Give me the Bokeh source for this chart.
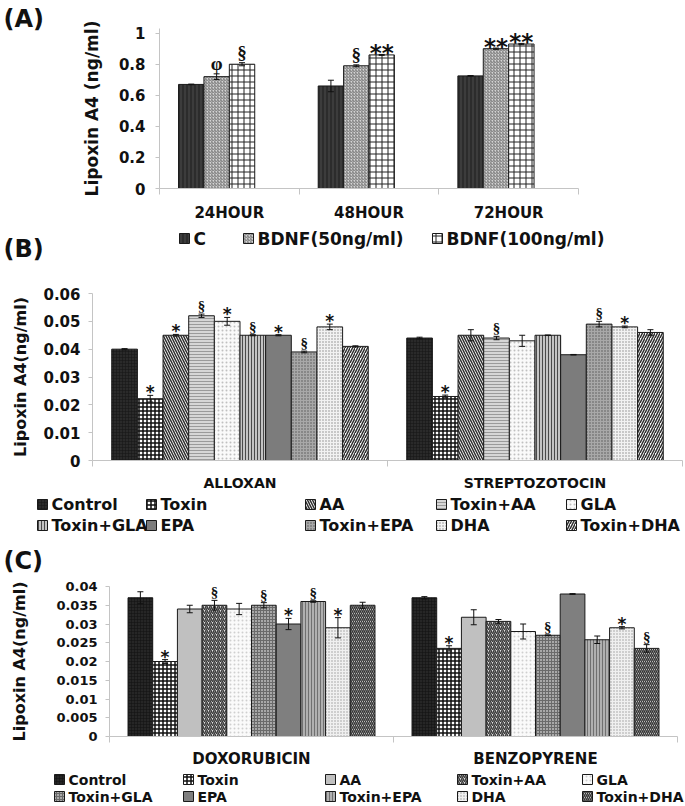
from bokeh.plotting import figure
from bokeh.models import (ColumnDataSource, Range1d, FixedTicker, LinearAxis,
                          Whisker, TeeHead, LabelSet, NumeralTickFormatter)
from bokeh.layouts import column, row
from bokeh.embed import file_html
from bokeh.resources import INLINE
from bokeh.core.properties import value

# ---------------- data ----------------
# Panel A
a_categories = ["24HOUR", "48HOUR", "72HOUR"]
a_series = ["C", "BDNF(50ng/ml)", "BDNF(100ng/ml)"]
a_c = [0.67, 0.66, 0.725]
a_c_err = [0.002, 0.037, 0.002]
a_c_sig = ["", "", ""]
a_bdnf50 = [0.72, 0.79, 0.90]
a_bdnf50_err = [0.018, 0.006, 0.004]
a_bdnf50_sig = ["φ", "§", "**"]
a_bdnf100 = [0.80, 0.86, 0.93]
a_bdnf100_err = [0.010, 0.003, 0.004]
a_bdnf100_sig = ["§", "**", "**"]
a_yticks = [0, 0.2, 0.4, 0.6, 0.8, 1]

treat_series = ["Control", "Toxin", "AA", "Toxin+AA", "GLA",
                "Toxin+GLA", "EPA", "Toxin+EPA", "DHA", "Toxin+DHA"]

# Panel B
b_categories = ["ALLOXAN", "STREPTOZOTOCIN"]
b_alloxan = [0.040, 0.0222, 0.045, 0.052, 0.050, 0.045, 0.045, 0.039, 0.048, 0.041]
b_alloxan_err = [0.0002, 0.0012, 0.0003, 0.0006, 0.0014, 0.0002, 0.0002, 0.0003, 0.0010, 0.0002]
b_alloxan_sig = ["", "*", "*", "§", "*", "§", "*", "§", "*", ""]
b_strep = [0.044, 0.023, 0.045, 0.044, 0.043, 0.045, 0.038, 0.049, 0.048, 0.046]
b_strep_err = [0.0003, 0.0005, 0.0020, 0.0006, 0.0020, 0.0001, 0.0001, 0.0010, 0.0003, 0.0010]
b_strep_sig = ["", "*", "", "§", "", "", "", "§", "*", ""]
b_yticks = [0, 0.01, 0.02, 0.03, 0.04, 0.05, 0.06]

# Panel C
c_categories = ["DOXORUBICIN", "BENZOPYRENE"]
c_dox = [0.037, 0.020, 0.034, 0.035, 0.034, 0.035, 0.030, 0.036, 0.029, 0.035]
c_dox_err = [0.0016, 0.0005, 0.0010, 0.0013, 0.0015, 0.0007, 0.0015, 0.0002, 0.0027, 0.0008]
c_dox_sig = ["", "*", "", "§", "", "§", "*", "§", "*", ""]
c_benz = [0.037, 0.0235, 0.0318, 0.0307, 0.028, 0.027, 0.038, 0.0258, 0.029, 0.0235]
c_benz_err = [0.0003, 0.0007, 0.0020, 0.0005, 0.0020, 0.0001, 0.0001, 0.0010, 0.0003, 0.0010]
c_benz_sig = ["", "*", "", "", "", "§", "", "", "*", "§"]
c_yticks = [0, 0.005, 0.01, 0.015, 0.02, 0.025, 0.03, 0.035, 0.04]

# ---------------- styles ----------------
W = 685
FONT = "DejaVu Sans"
AX = "#c4c4c4"

a_styles = [
    dict(fill_color="#3c3c3c", hatch_pattern="vertical_line", hatch_color="#1c1c1c", hatch_scale=4, hatch_weight=1),
    dict(fill_color="#d4d4d4", hatch_pattern="right_diagonal_line", hatch_color="#767676", hatch_scale=3, hatch_weight=1),
    dict(fill_color="#ffffff", hatch_pattern="cross", hatch_color="#222222", hatch_scale=6, hatch_weight=1),
]
b_styles = [
    dict(fill_color="#2a2a2a", hatch_pattern="cross", hatch_color="#151515", hatch_scale=3, hatch_weight=0.5),
    dict(fill_color="#ffffff", hatch_pattern="cross", hatch_color="#111111", hatch_scale=4, hatch_weight=1.5),
    dict(fill_color="#ffffff", hatch_pattern="left_diagonal_line", hatch_color="#303030", hatch_scale=5, hatch_weight=1.5),
    dict(fill_color="#d6d6d6", hatch_pattern="horizontal_line", hatch_color="#9a9a9a", hatch_scale=3, hatch_weight=1),
    dict(fill_color="#fafafa", hatch_pattern="dot", hatch_color="#c0c0c0", hatch_scale=4, hatch_weight=1),
    dict(fill_color="#c4c4c4", hatch_pattern="vertical_line", hatch_color="#4a4a4a", hatch_scale=3, hatch_weight=1),
    dict(fill_color="#7c7c7c", hatch_pattern=None),
    dict(fill_color="#a8a8a8", hatch_pattern="dot", hatch_color="#555555", hatch_scale=3, hatch_weight=1),
    dict(fill_color="#f2f2f2", hatch_pattern="dot", hatch_color="#8a8a8a", hatch_scale=3, hatch_weight=1),
    dict(fill_color="#ffffff", hatch_pattern="right_diagonal_line", hatch_color="#303030", hatch_scale=5, hatch_weight=1.5),
]
c_styles = [
    dict(fill_color="#262626", hatch_pattern="cross", hatch_color="#111111", hatch_scale=3, hatch_weight=0.5),
    dict(fill_color="#ffffff", hatch_pattern="cross", hatch_color="#111111", hatch_scale=4, hatch_weight=1.5),
    dict(fill_color="#c0c0c0", hatch_pattern=None),
    dict(fill_color="#e0e0e0", hatch_pattern="right_diagonal_line", hatch_color="#3a3a3a", hatch_scale=4, hatch_weight=1.5),
    dict(fill_color="#fafafa", hatch_pattern="dot", hatch_color="#cfcfcf", hatch_scale=4, hatch_weight=1),
    dict(fill_color="#a8a8a8", hatch_pattern="cross", hatch_color="#6a6a6a", hatch_scale=3, hatch_weight=1),
    dict(fill_color="#7f7f7f", hatch_pattern=None),
    dict(fill_color="#b0b0b0", hatch_pattern="vertical_line", hatch_color="#707070", hatch_scale=3, hatch_weight=1),
    dict(fill_color="#f0f0f0", hatch_pattern="dot", hatch_color="#9a9a9a", hatch_scale=3, hatch_weight=1),
    dict(fill_color="#ffffff", hatch_pattern="left_diagonal_line", hatch_color="#333333", hatch_scale=4, hatch_weight=1.5),
]


def mark_style(m, big):
    # font, size, vertical offset (px)
    if m.startswith("*"):
        return (FONT, "23px", -12) if big else (FONT, "17px", -7)
    return ("Liberation Serif", "19px", 0) if big else ("Liberation Serif", "15px", 0)


def bare_fig(width, height, xr, yr, **kw):
    f = figure(width=width, height=height, x_range=xr, y_range=yr,
               output_backend="svg", toolbar_location=None,
               x_axis_location=None, y_axis_location=None, **kw)
    f.frame_align = False
    f.outline_line_color = None
    f.xgrid.visible = False
    f.ygrid.visible = False
    return f


def main_panel(width, height, borders, cats, values, errs, sigs, nslots, yend, yticks,
               styles, tick_size, cat_size, title, title_size, title_standoff,
               tick_standoff, cat_standoff, big_marks):
    left, right, top, bottom = borders
    ncat = len(cats)
    p = bare_fig(width, height, Range1d(0, ncat), Range1d(0, yend),
                 min_border_left=left, min_border_right=right,
                 min_border_top=top, min_border_bottom=bottom)

    yax = LinearAxis(ticker=FixedTicker(ticks=yticks), formatter=NumeralTickFormatter(format="0.[000]"))
    yax.axis_line_color = AX
    yax.major_tick_line_color = AX
    yax.major_tick_out = 4
    yax.major_tick_in = 0
    yax.minor_tick_line_color = None
    yax.major_label_text_font = FONT
    yax.major_label_text_font_style = "bold"
    yax.major_label_text_font_size = tick_size
    yax.major_label_text_color = "#111111"
    yax.major_label_standoff = tick_standoff
    yax.axis_label = title
    yax.axis_label_text_font = FONT
    yax.axis_label_text_font_style = "bold"
    yax.axis_label_text_font_size = title_size
    yax.axis_label_text_color = "#111111"
    yax.axis_label_standoff = title_standoff
    p.add_layout(yax, "left")

    centers = [k + 0.5 for k in range(ncat)]
    xax = LinearAxis(ticker=FixedTicker(ticks=centers, minor_ticks=list(range(ncat + 1))))
    xax.major_label_overrides = {c: name for c, name in zip(centers, cats)}
    xax.axis_line_color = AX
    xax.major_tick_line_color = None
    xax.major_tick_out = 0
    xax.major_tick_in = 0
    xax.minor_tick_line_color = AX
    xax.minor_tick_out = 6
    xax.minor_tick_in = 0
    xax.major_label_text_font = FONT
    xax.major_label_text_font_style = "bold"
    xax.major_label_text_font_size = cat_size
    xax.major_label_text_color = "#111111"
    xax.major_label_standoff = cat_standoff
    p.add_layout(xax, "below")

    w = 1.0 / (nslots + 1.5)
    for i in range(len(styles)):
        xs = [k + 0.5 + (i - (nslots - 1) / 2.0) * w for k in range(ncat)]
        tops = [values[k][i] for k in range(ncat)]
        er = [errs[k][i] for k in range(ncat)]
        marks = [sigs[k][i] for k in range(ncat)]
        ms = [mark_style(m, big_marks) for m in marks]
        src = ColumnDataSource(dict(x=xs, top=tops,
                                    upper=[t + e for t, e in zip(tops, er)],
                                    lower=[t - e for t, e in zip(tops, er)],
                                    mark=marks, mfont=[s[0] for s in ms],
                                    msize=[s[1] for s in ms], moff=[s[2] for s in ms]))
        p.vbar(x="x", top="top", bottom=0, width=w, source=src,
               line_color="#1a1a1a", line_width=1, **styles[i])
        wh = Whisker(source=src, base="x", upper="upper", lower="lower",
                     line_color="#111111", line_width=1, level="annotation",
                     upper_head=TeeHead(size=6, line_color="#111111", line_width=1),
                     lower_head=TeeHead(size=6, line_color="#111111", line_width=1))
        p.add_layout(wh)
        ls = LabelSet(x="x", y="upper", text="mark", source=src, text_align="center",
                      text_baseline="bottom", y_offset="moff", text_font="mfont",
                      text_font_size="msize", text_font_style="bold", text_color="#111111")
        p.add_layout(ls)
    return p


def text_fig(width, height, texts):
    f = bare_fig(width, height, Range1d(0, width), Range1d(height, 0), min_border=0)
    for t, x, y, size in texts:
        src = ColumnDataSource(dict(x=[x], y=[y], t=[t]))
        f.text(x="x", y="y", text="t", source=src, text_baseline="middle", text_align="left",
               text_font=value(FONT), text_font_style="bold", text_font_size=size,
               text_color="#111111")
    return f


def legend_panel(height, names, styles, col_x, rows_y, ncols, font_size, sq=10, extra=None):
    f = text_fig(W, height, extra or [])
    for i, (name, st) in enumerate(zip(names, styles)):
        cx = col_x[i % ncols]
        cy = rows_y[i // ncols]
        src = ColumnDataSource(dict(x=[cx + sq / 2.0], y=[cy], t=[name], tx=[cx + sq + 4]))
        f.rect(x="x", y="y", width=sq, height=sq, source=src,
               line_color="#1a1a1a", line_width=1, **st)
        f.text(x="tx", y="y", text="t", source=src, text_baseline="middle", text_align="left",
               text_font=value(FONT), text_font_style="bold", text_font_size=font_size,
               text_color="#111111")
    return f


# ---------------- panels ----------------
a_vals = [[a_c[k], a_bdnf50[k], a_bdnf100[k]] for k in range(len(a_categories))]
a_errs = [[a_c_err[k], a_bdnf50_err[k], a_bdnf100_err[k]] for k in range(len(a_categories))]
a_sigs = [[a_c_sig[k], a_bdnf50_sig[k], a_bdnf100_sig[k]] for k in range(len(a_categories))]

LW = 60
letA = text_fig(LW, 226, [("(A)", 3, 18, "24px")])
pA = main_panel(W - LW, 226, (99, 107, 28, 38), a_categories, a_vals, a_errs, a_sigs, 4,
                1.03, a_yticks, a_styles, "15px", "15px", "Lipoxin A4 (ng/ml)", "17px",
                14, 10, 9, True)
legA = legend_panel(42, a_series, a_styles, [179, 243, 432], [12], 3, "17px", sq=10,
                    extra=[("(B)", 3, 22, "24px")])

pB = main_panel(W, 226, (92, 3, 25, 34), b_categories, [b_alloxan, b_strep],
                [b_alloxan_err, b_strep_err], [b_alloxan_sig, b_strep_sig], 10, 0.06,
                b_yticks, b_styles, "15px", "14px", "Lipoxin A4(ng/ml)", "16px", 10, 8, 8, False)
legB = legend_panel(84, treat_series, b_styles, [37, 146, 305, 436, 566], [10, 31], 5, "16px",
                    extra=[("(C)", 3, 66, "24px")])

pC = main_panel(W, 192, (109, 8, 8, 34), c_categories, [c_dox, c_benz],
                [c_dox_err, c_benz_err], [c_dox_sig, c_benz_sig], 10, 0.04,
                c_yticks, c_styles, "13px", "15px", "Lipoxin A4(ng/ml)", "16px", 24, 8, 7, False)
legC = legend_panel(34, treat_series, c_styles, [54, 183, 325, 457, 582], [9, 26], 5, "14px")

layout = column(row(letA, pA, spacing=0), legA, pB, legB, pC, legC, spacing=0)
open("out.html", "w").write(file_html(layout, INLINE))
